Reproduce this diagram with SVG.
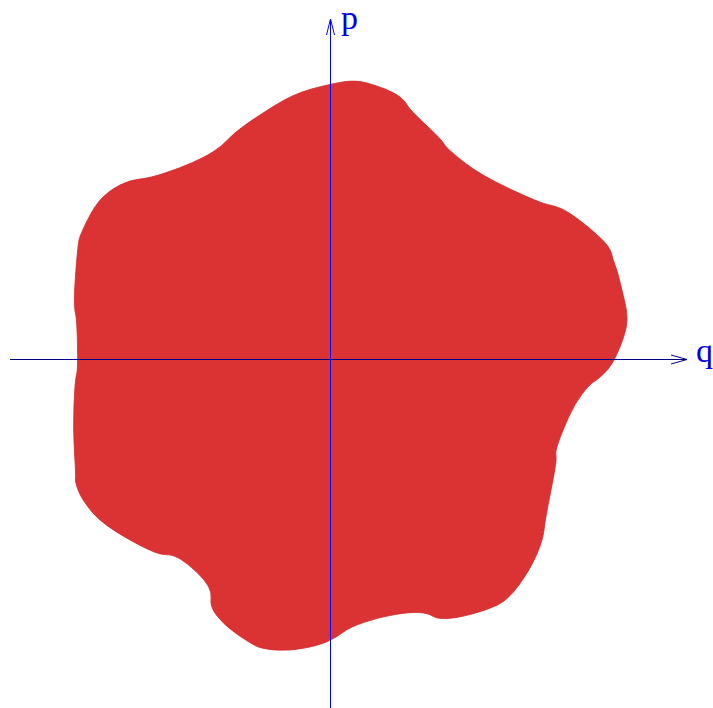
<svg xmlns="http://www.w3.org/2000/svg" width="713" height="708" viewBox="0 0 713 708">
<style>
.blob{fill:#db3234;stroke:#d42a2a;stroke-width:0.8;stroke-linejoin:round}
.ax{fill:none;stroke-width:1}
.lbl{font-family:"Liberation Serif","Times New Roman",serif;font-size:34px;fill:#0000e6}
</style>
<rect width="713" height="708" fill="#ffffff"/>
<g id="region">
<path class="blob" d="M311.5,89 Q330,84 342.5,82 Q355,80 365,82.5 Q375,85 385,89 Q395,93 400,97 Q405,101 407.5,105.5 Q410,110 426,125 Q442,140 444,144 Q446,148 463,161.5 Q480,175 510,189 Q540,203 547.5,204.5 Q555,206 561,208.5 Q567,211 578.5,219.5 Q590,228 600,237.5 Q610,247 611.5,253.5 Q613,260 615,265 Q617,270 619.5,280 Q622,290 625,303 Q628,316 626.5,325.5 Q625,335 618.5,350.5 Q612,366 604.5,373 Q597,380 593.5,382 Q590,384 582.5,393.5 Q575,403 568.5,417.5 Q562,432 558.5,442 Q555,452 556,456 Q557,460 551,490 Q545,520 544,530 Q543,540 536.5,555 Q530,570 519,585 Q508,600 497.5,605 Q487,610 472,614 Q457,618 447,618.5 Q437,619 432.5,616 Q428,613 419,612.5 Q410,612 395,614.5 Q380,617 365,622 Q350,627 343.5,632 Q337,637 328.5,641 Q320,645 305,648 Q290,651 276,650 Q262,649 256,646 Q250,643 237.5,634.5 Q225,626 217.5,616.5 Q210,607 211,600 Q212,593 208.5,586.5 Q205,580 196,571.5 Q187,563 179.5,558.5 Q172,554 164.5,554.5 Q157,555 130,540 Q103,525 92.5,512.5 Q82,500 78.5,491 Q75,482 75.5,479 Q76,476 74.5,453 Q73,430 74,405 Q75,380 76.5,375 Q78,370 77.5,345 Q77,320 75.5,313.5 Q74,307 74.5,293.5 Q75,280 76.5,262.5 Q78,245 79,240 Q80,235 87.5,220 Q95,205 102.5,197.5 Q110,190 120,185 Q130,180 140,179 Q150,178 165,173 Q180,168 192.5,162.5 Q205,157 213.5,151.5 Q222,146 228,139.5 Q234,133 244.5,125.5 Q255,118 274,106 Q293,94 311.5,89 Z"/>
</g>
<g id="connectors">
<g id="axis-q" stroke="#00008b">
<line class="ax" x1="10" y1="359.5" x2="687" y2="359.5"/>
<path class="ax" d="M671,355 L687,359.5 L671,364"/>
</g>
<g id="axis-p" stroke="#0000ff">
<line class="ax" x1="330.5" y1="708" x2="330.5" y2="19"/>
<path class="ax" d="M326.5,35 L330.5,19 L334.5,35"/>
</g>
</g>
<g id="label-p"><text class="lbl" x="341" y="28.5">p</text></g>
<g id="label-q"><text class="lbl" x="696" y="362">q</text></g>
</svg>
